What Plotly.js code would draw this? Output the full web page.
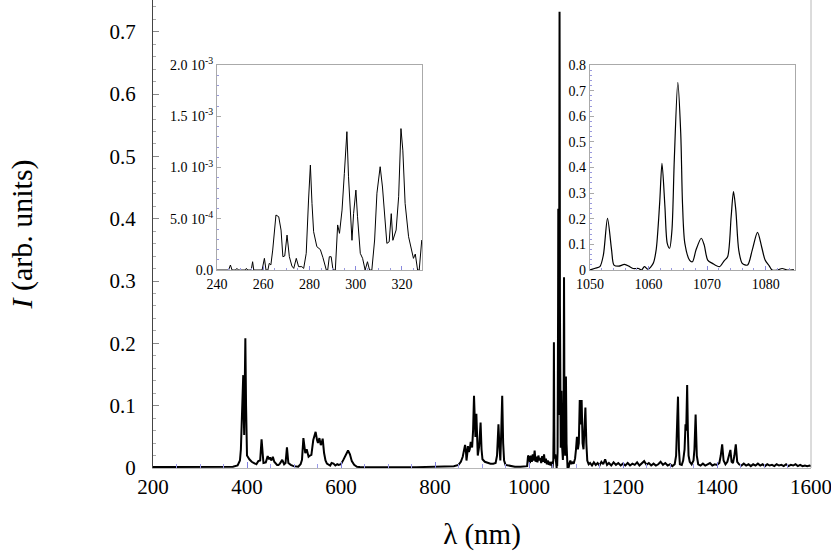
<!DOCTYPE html>
<html>
<head>
<meta charset="utf-8">
<script src="https://cdn.plot.ly/plotly-3.0.1.min.js"></script>
</head>
<body style="margin:0">
<div id="spectrum" style="width:831px;height:551px"></div>
<script>
// main spectrum (nm, arb. units)
var lamBlue = [200, 220, 240, 260, 280, 300, 320, 340, 360, 370, 380, 385, 387, 390, 392, 393, 394, 395, 396.5, 398, 400, 405, 410, 415, 420, 424, 428, 431, 433, 435, 440, 444, 447, 449, 452, 455, 458, 460, 464, 467, 470, 475, 479, 482, 485, 488, 493, 499, 505, 509, 514, 517, 520, 522, 524, 527, 531, 534, 537, 541, 546, 549, 551, 554, 557, 559, 561, 564, 567, 570, 574, 577, 580, 584, 588, 592, 595, 600, 605, 610, 615, 619, 623, 628, 634, 640];
var intBlue = [0.0015, 0.0015, 0.0015, 0.0015, 0.0016, 0.0017, 0.0017, 0.0016, 0.0016, 0.002, 0.004, 0.012, 0.03, 0.1, 0.149, 0.09, 0.053, 0.12, 0.208, 0.1, 0.02, 0.014, 0.01, 0.008, 0.006, 0.011, 0.012, 0.046, 0.015, 0.008, 0.009, 0.019, 0.014, 0.017, 0.012, 0.018, 0.01, 0.008, 0.005, 0.005, 0.007, 0.013, 0.006, 0.008, 0.033, 0.008, 0.005, 0.003, 0.002, 0.002, 0.006, 0.013, 0.048, 0.035, 0.024, 0.03, 0.018, 0.02, 0.021, 0.045, 0.058, 0.045, 0.04, 0.048, 0.037, 0.04, 0.047, 0.024, 0.012, 0.007, 0.005, 0.004, 0.008, 0.007, 0.004, 0.006, 0.005, 0.006, 0.013, 0.02, 0.028, 0.022, 0.011, 0.005, 0.002, 0.0015];

var lamRed = [660, 680, 700, 720, 740, 760, 780, 800, 820, 840, 850, 855, 859, 862, 864, 866, 867, 869, 870, 872, 874, 876, 879, 881, 883, 885, 886, 888, 890, 891, 894, 897, 899, 901, 906, 912, 918, 924, 929, 932, 935, 937, 939, 941, 943, 945, 947, 950, 955, 961, 970, 982, 990, 996, 998, 1000, 1002, 1004, 1006, 1008, 1010, 1012, 1014, 1016, 1018, 1020, 1022, 1024, 1026, 1028, 1030, 1032, 1034, 1036, 1038, 1040, 1042, 1044, 1046, 1048, 1049];
var intRed = [0.0012, 0.0012, 0.0012, 0.0012, 0.0012, 0.0013, 0.0015, 0.002, 0.002, 0.003, 0.005, 0.01, 0.018, 0.03, 0.037, 0.025, 0.012, 0.025, 0.035, 0.026, 0.03, 0.042, 0.033, 0.06, 0.116, 0.07, 0.05, 0.087, 0.04, 0.02, 0.035, 0.073, 0.03, 0.014, 0.01, 0.008, 0.007, 0.007, 0.008, 0.02, 0.07, 0.035, 0.012, 0.06, 0.116, 0.04, 0.012, 0.005, 0.004, 0.003, 0.002, 0.002, 0.002, 0.003, 0.02, 0.018, 0.008, 0.02, 0.01, 0.022, 0.012, 0.028, 0.01, 0.018, 0.009, 0.02, 0.012, 0.016, 0.008, 0.019, 0.01, 0.022, 0.008, 0.015, 0.006, 0.012, 0.005, 0.01, 0.004, 0.008, 0.01];

var lamIR = [1086, 1088, 1090, 1092, 1095, 1098, 1100, 1102, 1104, 1106, 1108, 1110, 1112, 1114, 1116, 1118, 1120, 1122, 1124, 1127, 1130, 1134, 1138, 1142, 1146, 1150, 1154, 1158, 1162, 1166, 1170, 1175, 1180, 1185, 1190, 1195, 1200, 1205, 1210, 1215, 1220, 1225, 1230, 1235, 1240, 1245, 1250, 1255, 1260, 1265, 1270, 1275, 1280, 1285, 1290, 1295, 1300, 1305, 1310, 1313, 1315.5, 1317, 1319, 1321, 1325, 1328, 1331, 1333, 1334.5, 1336.5, 1338, 1339.5, 1342, 1346, 1350, 1352, 1354.5, 1357, 1360, 1365, 1370, 1375, 1380, 1385, 1390, 1395, 1400, 1405, 1408, 1411, 1414, 1418, 1422, 1425, 1428.5, 1431, 1434, 1437, 1440, 1443, 1447, 1452, 1457, 1462, 1467, 1472, 1477, 1482, 1487, 1492, 1497, 1502, 1507, 1512, 1517, 1522, 1527, 1532, 1537, 1542, 1547, 1552, 1557, 1562, 1567, 1572, 1577, 1582, 1587, 1592, 1597, 1600];
var intIR = [0.008, 0.012, 0.006, 0.01, 0.007, 0.015, 0.03, 0.05, 0.03, 0.04, 0.109, 0.07, 0.109, 0.04, 0.03, 0.06, 0.097, 0.04, 0.012, 0.006, 0.008, 0.004, 0.009, 0.005, 0.008, 0.004, 0.01, 0.006, 0.014, 0.005, 0.008, 0.004, 0.009, 0.005, 0.008, 0.004, 0.007, 0.004, 0.008, 0.004, 0.007, 0.005, 0.009, 0.004, 0.007, 0.011, 0.005, 0.008, 0.004, 0.007, 0.004, 0.006, 0.01, 0.005, 0.008, 0.004, 0.006, 0.003, 0.006, 0.02, 0.08, 0.1145, 0.03, 0.006, 0.005, 0.012, 0.03, 0.07, 0.06, 0.133, 0.06, 0.02, 0.01, 0.006, 0.012, 0.03, 0.086, 0.02, 0.006, 0.004, 0.007, 0.004, 0.006, 0.008, 0.004, 0.006, 0.005, 0.008, 0.02, 0.038, 0.012, 0.006, 0.01, 0.018, 0.029, 0.01, 0.008, 0.02, 0.038, 0.01, 0.006, 0.004, 0.007, 0.004, 0.006, 0.003, 0.006, 0.004, 0.007, 0.004, 0.006, 0.003, 0.006, 0.004, 0.005, 0.003, 0.006, 0.004, 0.005, 0.003, 0.006, 0.003, 0.005, 0.004, 0.006, 0.003, 0.005, 0.003, 0.004, 0.003, 0.004, 0.003];

// left inset: UV detail 240-329 nm
var lamUV = [240, 245, 245.8, 246.5, 248, 248.6, 249.3, 252.3, 252.7, 253.3, 254.8, 255.4, 255.9, 259.5, 260.5, 261.2, 262.0, 262.6, 263.3, 264.1, 265.5, 266.7, 267.7, 268.5, 269.3, 270.3, 271.3, 272.4, 273.2, 274.3, 275.3, 276.7, 277.5, 278.6, 279.6, 280.4, 281.1, 281.8, 283.2, 284.7, 285.8, 287.3, 287.9, 288.6, 289.4, 290.2, 291.2, 292.2, 293.0, 294.1, 295.1, 296.2, 296.9, 297.7, 298.4, 299.1, 300.1, 300.8, 302.0, 303.0, 304.1, 305.1, 306.0, 307.0, 308.2, 309.2, 310.6, 311.6, 312.5, 313.5, 314.5, 315.4, 316.1, 317.5, 318.6, 319.6, 320.4, 321.4, 322.9, 324.3, 325.0, 325.8, 326.8, 327.5, 328.6];
var intUV = [0, 0, 0.49e-4, 0, 0, 0.16e-4, 0, 0, 0.16e-4, 0, 0, 0.81e-4, 0, 0, 1.14e-4, 0, 0, 0.65e-4, 0.5e-4, 1.95e-4, 5.37e-4, 5.2e-4, 3.9e-4, 1.3e-4, 1.37e-4, 3.41e-4, 1.3e-4, 0.39e-4, 0.16e-4, 1.14e-4, 0.33e-4, 0.33e-4, 0.16e-4, 1.63e-4, 6.83e-4, 10.24e-4, 6.5e-4, 3.74e-4, 2.28e-4, 2.0e-4, 1.24e-4, 0, 0, 1.3e-4, 1.3e-4, 0, 0, 4.4e-4, 3.58e-4, 5.85e-4, 9.4e-4, 13.5e-4, 9.1e-4, 5.2e-4, 2.9e-4, 5.5e-4, 7.8e-4, 5.2e-4, 1.63e-4, 1.14e-4, 0, 0.81e-4, 0, 0, 2.93e-4, 7.5e-4, 10.08e-4, 8.1e-4, 5.2e-4, 2.6e-4, 2.76e-4, 5.5e-4, 2.9e-4, 3.9e-4, 7.15e-4, 13.8e-4, 11.7e-4, 6.5e-4, 3.25e-4, 1.95e-4, 1.14e-4, 1.56e-4, 0, 0, 2.93e-4];

// right inset: 1050-1085 nm group (also part of the main trace)
var lamNd = [1050, 1050.9, 1051.7, 1052.3, 1053.0, 1053.7, 1054.1, 1054.9, 1055.9, 1056.8, 1057.4, 1058.3, 1058.8, 1059.3, 1059.9, 1060.8, 1061.3, 1061.9, 1062.3, 1062.8, 1063.2, 1063.6, 1064.0, 1064.4, 1065.0, 1065.5, 1065.8, 1066.2, 1067.0, 1067.5, 1068.1, 1069.0, 1069.5, 1070.1, 1070.9, 1072.1, 1072.9, 1073.5, 1074.1, 1074.5, 1074.9, 1075.4, 1076.0, 1076.9, 1077.7, 1078.6, 1079.3, 1079.9, 1080.6, 1081.1, 1082.0, 1082.8, 1083.7, 1084.8];
var intNd = [0.0, 0.007, 0.013, 0.059, 0.2016, 0.078, 0.0195, 0.015, 0.022, 0.013, 0.006, 0.006, 0.0, 0.013, 0.003, 0.026, 0.078, 0.26, 0.416, 0.247, 0.104, 0.085, 0.156, 0.43, 0.732, 0.533, 0.26, 0.104, 0.039, 0.0325, 0.078, 0.124, 0.098, 0.039, 0.026, 0.013, 0.036, 0.052, 0.208, 0.306, 0.234, 0.078, 0.026, 0.0195, 0.078, 0.147, 0.091, 0.039, 0.016, 0.0, 0.0, 0.006, 0.0, 0.002];

var uvTicks = [0, 0.0005, 0.001, 0.0015, 0.002];
var uvTickText = ['0.0', '5.0 10<sup>-4</sup>', '1.0 10<sup>-3</sup>', '1.5 10<sup>-3</sup>', '2.0 10<sup>-3</sup>'];

var FONT = 'Times New Roman';

function main(){
	var lamAll = lamBlue.concat(lamRed, lamNd, lamIR);
	var intAll = intBlue.concat(intRed, intNd, intIR);

	var data = [{
	  x: lamAll, y: intAll,
	  type: 'scatter', mode: 'lines',
	  line: {color: '#000', width: 2},
	  xaxis: 'x', yaxis: 'y',
	  hoverinfo: 'x+y'
	}, {
	  x: lamUV, y: intUV,
	  type: 'scatter', mode: 'lines',
	  line: {color: '#000', width: 1},
	  xaxis: 'x2', yaxis: 'y2'
	}, {
	  x: lamNd, y: intNd,
	  type: 'scatter', mode: 'lines',
	  line: {color: '#000', width: 1.2, shape: 'spline', smoothing: 0.8},
	  xaxis: 'x3', yaxis: 'y3'
	}];

	var insetX = {
	  showgrid: false, zeroline: false,
	  showline: true, mirror: true, linecolor: '#aaa', linewidth: 1,
	  ticks: 'inside', ticklen: 4, tickcolor: '#8888dd',
	  ticklabelstandoff: 1,
	  tickfont: {family: FONT, size: 14, color: '#000'}
	};
	var insetY = {
	  showgrid: false, zeroline: false,
	  showline: true, mirror: true, linecolor: '#aaa', linewidth: 1,
	  ticks: 'inside', ticklen: 4, tickcolor: '#aaa',
	  tickfont: {family: FONT, size: 14, color: '#000'}
	};

	var layout = {
	  width: 831, height: 551,
	  margin: {l: 153, r: 20, t: 0, b: 83},
	  paper_bgcolor: '#fff', plot_bgcolor: '#fff',
	  showlegend: false,
	  font: {family: FONT, size: 14, color: '#000'},
	  xaxis: {
	    range: [200, 1600], dtick: 200, tick0: 200,
	    showgrid: false, zeroline: false,
	    showline: true, mirror: true, linecolor: '#b8b8b8', linewidth: 1,
	    ticks: 'inside', ticklen: 6, tickcolor: '#8080e0',
	    minor: {dtick: 50, ticks: 'inside', ticklen: 4, tickcolor: '#9a9ae8'},
	    ticklabeloverflow: 'allow',
	    tickfont: {family: FONT, size: 21, color: '#000'},
	    title: {text: '\u03bb (nm)', font: {family: FONT, size: 29, color: '#000'}, standoff: 25}
	  },
	  yaxis: {
	    range: [0, 0.751], dtick: 0.1, tick0: 0,
	    showgrid: false, zeroline: false,
	    showline: true, linecolor: '#444', linewidth: 1,
	    ticks: 'inside', ticklen: 6, tickcolor: '#888',
	    minor: {dtick: 0.02, ticks: 'inside', ticklen: 3, tickcolor: '#aaa'},
	    ticklabelstandoff: 12,
	    tickfont: {family: FONT, size: 21, color: '#000'},
	    title: {text: '<i>I</i> (arb. units)', font: {family: FONT, size: 30, color: '#000'}, standoff: 68}
	  },
	  xaxis2: Object.assign({}, insetX, {
	    domain: [0.0973, 0.4088], anchor: 'y2',
	    range: [240, 328.7], dtick: 20, tick0: 240,
	    minor: {dtick: 5, ticks: 'inside', ticklen: 2, tickcolor: '#9999dd'}
	  }),
	  yaxis2: Object.assign({}, insetY, {
	    domain: [0.423, 0.861], anchor: 'x2',
	    range: [0, 0.002],
	    tickvals: uvTicks, ticktext: uvTickText,
	    minor: {dtick: 0.0001, ticks: 'inside', ticklen: 2, tickcolor: '#9999dd'}
	  }),
	  xaxis3: Object.assign({}, insetX, {
	    domain: [0.664, 0.9757], anchor: 'y3',
	    range: [1050, 1085], dtick: 10, tick0: 1050,
	    minor: {dtick: 2, ticks: 'inside', ticklen: 2, tickcolor: '#9999dd'}
	  }),
	  yaxis3: Object.assign({}, insetY, {
	    domain: [0.423, 0.861], anchor: 'x3',
	    range: [0, 0.8], dtick: 0.1, tick0: 0,
	    minor: {dtick: 0.02, ticks: 'inside', ticklen: 2, tickcolor: '#9999dd'}
	  }),
	  shapes: [{
	    type: 'line', xref: 'paper', yref: 'paper',
	    x0: 1, x1: 1, y0: 0, y1: 1,
	    line: {color: '#b8b8b8', width: 1}
	  }]
	};

	Plotly.newPlot('spectrum', data, layout, {
		displayModeBar: false
	});
}

main();
</script>
</body>
</html>
